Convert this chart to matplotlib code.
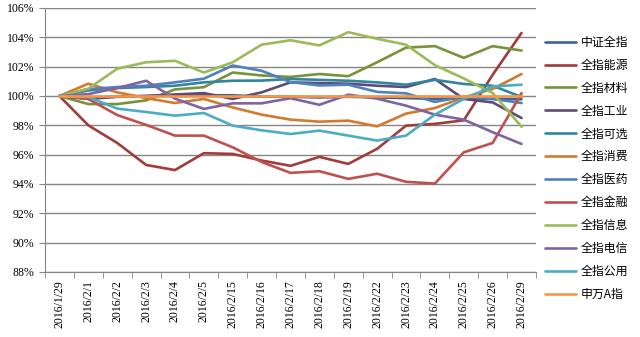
import matplotlib
matplotlib.use("Agg")
import matplotlib.pyplot as plt
from matplotlib.ticker import FuncFormatter, FixedLocator

dates = ["2016/1/29", "2016/2/1", "2016/2/2", "2016/2/3", "2016/2/4", "2016/2/5",
         "2016/2/15", "2016/2/16", "2016/2/17", "2016/2/18", "2016/2/19",
         "2016/2/22", "2016/2/23", "2016/2/24", "2016/2/25", "2016/2/26", "2016/2/29"]

zz_all   = [100, 99.9, 99.95, 100.0, 100.05, 100.05, 100.05, 99.95, 99.95, 99.9, 99.95, 99.9, 99.86, 99.8, 99.85, 99.8, 99.78]
energy   = [100, 98.0, 96.8, 95.3, 94.95, 96.1, 96.05, 95.6, 95.24, 95.85, 95.37, 96.4, 97.98, 98.1, 98.34, 101.45, 104.3]
material = [100, 99.45, 99.45, 99.7, 100.45, 100.6, 101.6, 101.4, 101.3, 101.5, 101.35, 102.3, 103.3, 103.4, 102.6, 103.4, 103.1]
industry = [100, 99.8, 99.95, 100.0, 100.1, 100.2, 99.8, 100.25, 100.93, 100.88, 100.84, 100.7, 100.61, 101.16, 99.8, 99.56, 98.5]
discret  = [100, 100.38, 100.54, 100.61, 100.7, 100.93, 101.04, 101.05, 101.16, 101.1, 101.04, 100.93, 100.77, 101.1, 100.82, 100.7, 99.93]
staples  = [100, 100.84, 100.25, 99.86, 99.52, 99.8, 99.22, 98.73, 98.39, 98.25, 98.32, 97.93, 98.8, 99.18, 99.9, 100.48, 101.5]
health   = [100, 100.47, 100.61, 100.7, 100.93, 101.18, 102.08, 101.72, 100.95, 100.72, 100.77, 100.28, 100.18, 99.6, 99.95, 99.8, 99.52]
finance  = [100, 99.8, 98.7, 98.03, 97.3, 97.3, 96.5, 95.5, 94.76, 94.87, 94.35, 94.7, 94.15, 94.03, 96.16, 96.8, 100.2]
infotech = [100, 100.5, 101.86, 102.3, 102.4, 101.6, 102.3, 103.5, 103.8, 103.45, 104.35, 103.9, 103.5, 102.1, 101.2, 100.2, 97.9]
telecom  = [100, 100.13, 100.54, 101.04, 99.82, 99.12, 99.5, 99.5, 99.85, 99.4, 100.09, 99.82, 99.34, 98.73, 98.39, 97.53, 96.73]
utility  = [100, 99.93, 99.14, 98.91, 98.66, 98.84, 97.98, 97.66, 97.41, 97.64, 97.3, 96.96, 97.3, 98.73, 99.8, 100.65, 100.77]
sw_a     = [100] * 17

names = ["中证全指", "全指能源", "全指材料", "全指工业", "全指可选", "全指消费",
         "全指医药", "全指金融", "全指信息", "全指电信", "全指公用", "申万A指"]
series = [zz_all, energy, material, industry, discret, staples,
          health, finance, infotech, telecom, utility, sw_a]
colors = ["#3c6496", "#a03c3a", "#77933c", "#5f4b7b", "#31859c", "#d37a2f",
          "#4f81bd", "#c0504d", "#9bbb59", "#8064a2", "#4bacc6", "#f79646"]

fig = plt.figure(figsize=(6.4, 3.37), dpi=100)
ax = fig.add_axes([45/640, 65/337, 491/640, 264/337])

x = list(range(len(dates)))
for name, vals, c in zip(names, series, colors):
    ax.plot(x, vals, color=c, linewidth=1.9, label=name, solid_capstyle="round")

ax.set_xlim(-0.5, len(dates) - 0.5)
ax.set_ylim(88, 106)
ax.set_yticks(range(88, 107, 2))
ax.yaxis.set_major_formatter(FuncFormatter(lambda v, p: f"{int(round(v))}%"))
ax.grid(axis="y", color="#868686", linewidth=1)
ax.set_axisbelow(True)

ax.set_xticks(x)
ax.set_xticklabels(dates, rotation=90, fontsize=8.5, family="Liberation Serif")
ax.xaxis.set_minor_locator(FixedLocator([i - 0.5 for i in range(len(dates) + 1)]))
ax.tick_params(axis="x", which="major", length=0, pad=6)
ax.tick_params(axis="x", which="minor", length=4, color="#868686")
ax.tick_params(axis="y", length=4, color="#868686", labelsize=8.5)
for lab in ax.get_yticklabels():
    lab.set_family("Liberation Serif")

for s in ["top", "right"]:
    ax.spines[s].set_visible(False)
for s in ["left", "bottom"]:
    ax.spines[s].set_color("#868686")

leg = fig.legend(loc="upper left", bbox_to_anchor=(540/640, 1 - 31/337),
                 frameon=False, prop={"family": ["Noto Sans CJK SC", "DejaVu Sans"], "size": 8.6},
                 handlelength=2.65, handletextpad=0.35, labelspacing=0.83, borderaxespad=0)

fig.savefig("out.png", dpi=100, facecolor="white")
